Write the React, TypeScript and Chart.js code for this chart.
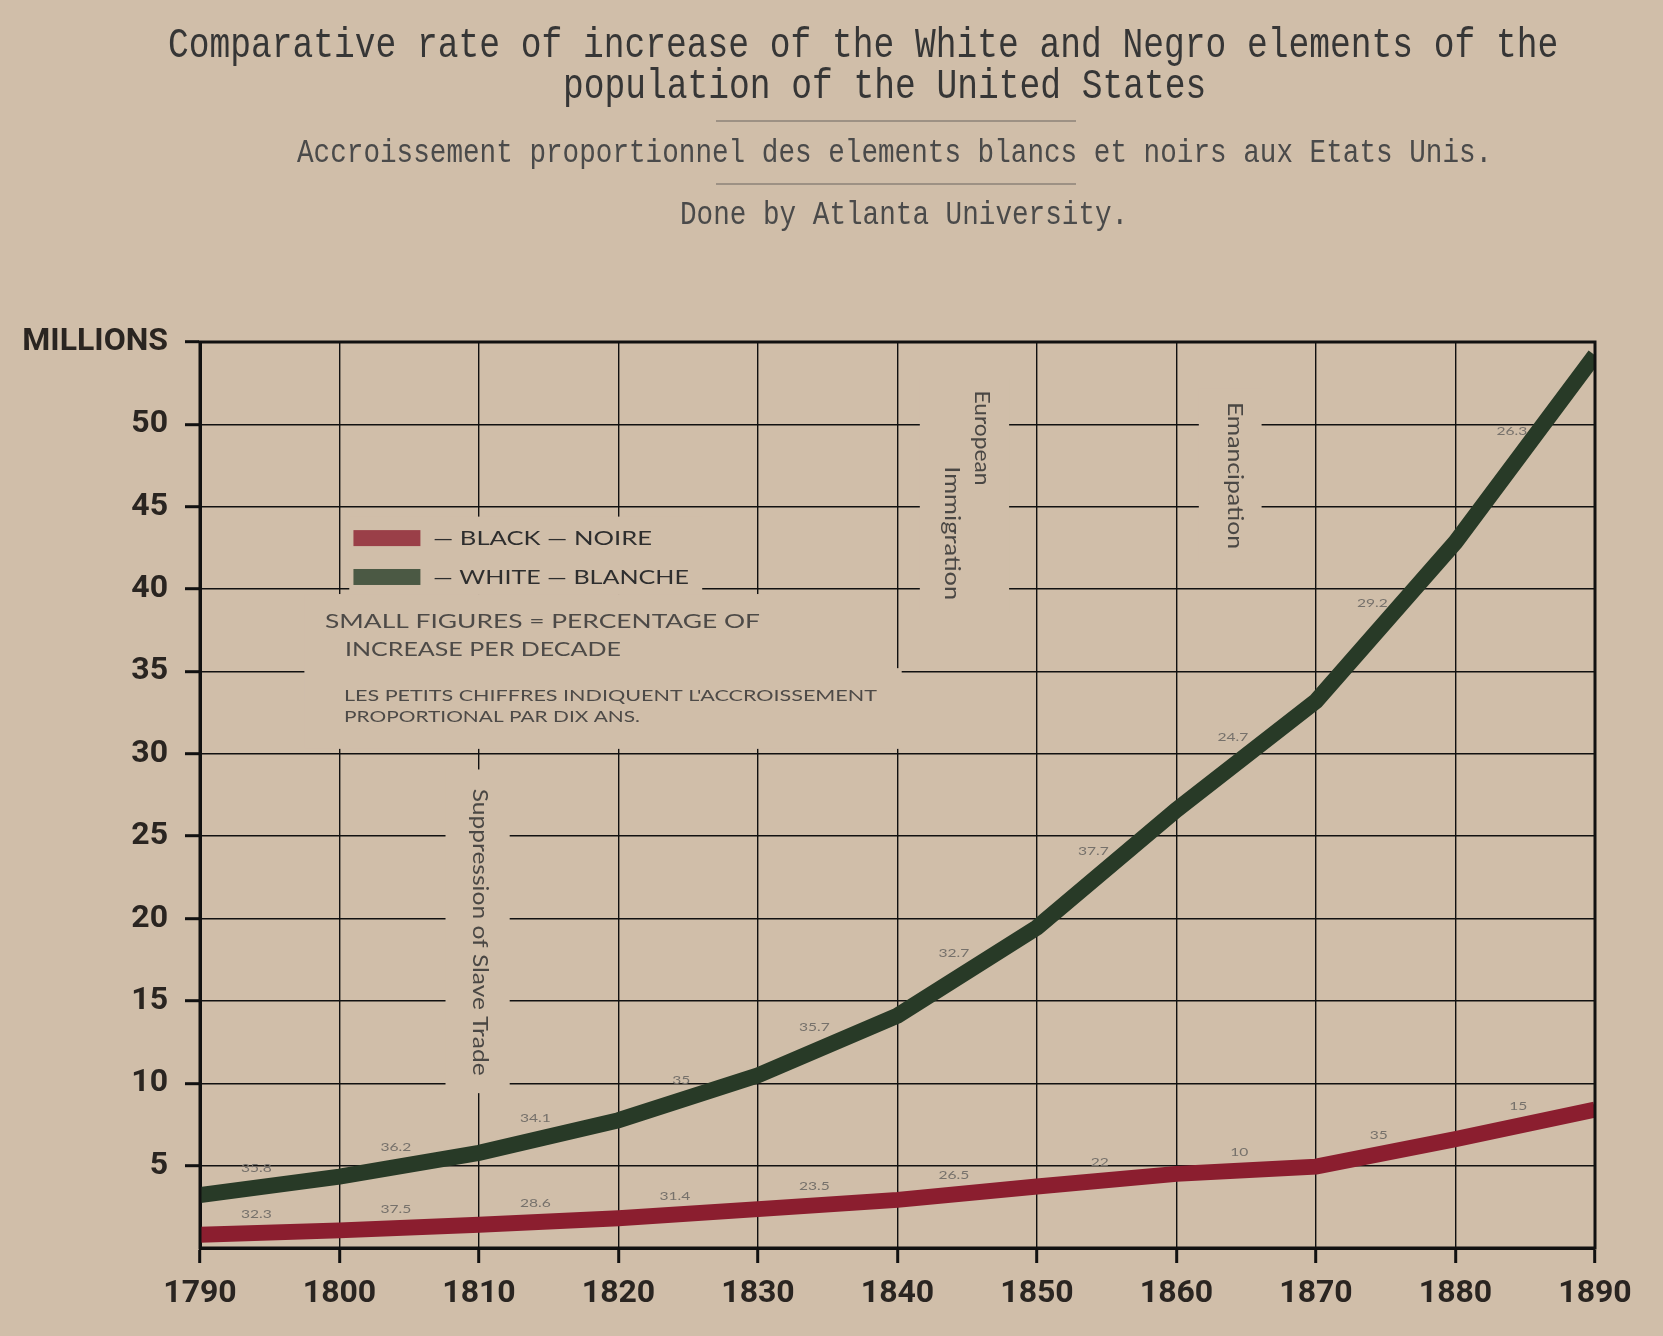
import React, { useEffect, useRef } from 'react';
import { Chart, registerables } from 'chart.js';

Chart.register(...registerables);

// ---------------- data ----------------
const years = [1790, 1800, 1810, 1820, 1830, 1840, 1850, 1860, 1870, 1880, 1890];
const whitePopulation = [3.22, 4.33, 5.78, 7.76, 10.48, 14.11, 19.46, 26.6, 33.2, 42.85, 54.2];
const blackPopulation = [0.8, 1.07, 1.41, 1.81, 2.36, 2.92, 3.73, 4.5, 4.94, 6.61, 8.4];
const whiteIncrease = ['35.8', '36.2', '34.1', '35', '35.7', '32.7', '37.7', '24.7', '29.2', '26.3'];
const blackIncrease = ['32.3', '37.5', '28.6', '31.4', '23.5', '26.5', '22', '10', '35', '15'];
const yTopLabel = 'MILLIONS';

const titleLines = [
  'Comparative rate of increase of the White and Negro elements of the',
  'population of the United States',
];
const subtitle = 'Accroissement proportionnel des elements blancs et noirs aux Etats Unis.';
const credit = 'Done by Atlanta University.';
const legendLabels = ['— BLACK — NOIRE', '— WHITE — BLANCHE'];
const noteLines = [
  'SMALL FIGURES = PERCENTAGE OF',
  'INCREASE PER DECADE',
  "LES PETITS CHIFFRES INDIQUENT L'ACCROISSEMENT",
  'PROPORTIONAL PAR DIX ANS.',
];
const eventLabels = ['European', 'Immigration', 'Emancipation', 'Suppression of Slave Trade'];

// ---------------- style ----------------
const W = 1663;
const H = 1336;
const BG = '#d0bea9';
const RED = '#8b1e2f';
const GREEN = '#283a27';
const RED_PATCH = '#9a3f48';
const GREEN_PATCH = '#4b5944';
const INK = '#111111';
const MONO = '"Liberation Mono", "DejaVu Sans Mono", monospace';
const HAND = 'Lato, "Open Sans", "DejaVu Sans", sans-serif';

type TextOpts = {
  font: string;
  color: string;
  align?: CanvasTextAlign;
  baseline?: CanvasTextBaseline;
  width?: number;
  sx?: number;
  rotate?: number;
};

function drawText(ctx: CanvasRenderingContext2D, text: string, x: number, y: number, o: TextOpts) {
  ctx.save();
  ctx.translate(x, y);
  if (o.rotate) ctx.rotate(o.rotate);
  ctx.font = o.font;
  let sx = o.sx ?? 1;
  if (o.width) sx = o.width / ctx.measureText(text).width;
  ctx.scale(sx, 1);
  ctx.fillStyle = o.color;
  ctx.textAlign = o.align ?? 'left';
  ctx.textBaseline = o.baseline ?? 'alphabetic';
  ctx.fillText(text, 0, 0);
  ctx.restore();
}

const decorPlugin = {
  id: 'decor',
  beforeDatasetsDraw(chart: any) {
    const ctx: CanvasRenderingContext2D = chart.ctx;
    const xs = chart.scales.x;
    const ys = chart.scales.y;
    const px = (v: number) => xs.getPixelForValue(v);
    const py = (v: number) => ys.getPixelForValue(v);
    const box = (x0: number, y0: number, x1: number, y1: number) => {
      ctx.fillStyle = BG;
      ctx.fillRect(px(x0), py(y0), px(x1) - px(x0), py(y1) - py(y0));
    };
    ctx.save();
    // boxes that interrupt the grid
    box(1800.7, 44.4, 1826.0, 39.7);
    box(1797.5, 39.7, 1830.9, 33.2);
    box(1797.5, 35.2, 1840.3, 30.3);
    box(1841.6, 52.8, 1848.0, 38.6);
    box(1861.6, 52.2, 1866.1, 41.6);
    box(1807.6, 29.05, 1812.2, 9.4);

    // legend
    ctx.fillStyle = RED_PATCH;
    ctx.fillRect(px(1801.0), py(43.58), px(1805.8) - px(1801.0), py(42.61) - py(43.58));
    ctx.fillStyle = GREEN_PATCH;
    ctx.fillRect(px(1801.0), py(41.22), px(1805.8) - px(1801.0), py(40.25) - py(41.22));
    drawText(ctx, legendLabels[0], px(1806.7), py(43.03), { font: `19px ${HAND}`, color: '#2e2e2e', baseline: 'middle', width: 219 });
    drawText(ctx, legendLabels[1], px(1806.7), py(40.67), { font: `19px ${HAND}`, color: '#2e2e2e', baseline: 'middle', width: 256 });

    // note
    const noteCol = '#4d4a47';
    drawText(ctx, noteLines[0], px(1798.96), py(38.01), { font: `19px ${HAND}`, color: noteCol, baseline: 'middle', width: 435 });
    drawText(ctx, noteLines[1], px(1800.39), py(36.31), { font: `19px ${HAND}`, color: noteCol, baseline: 'middle', width: 276 });
    drawText(ctx, noteLines[2], px(1800.32), py(33.53), { font: `15px ${HAND}`, color: noteCol, baseline: 'middle', width: 533 });
    drawText(ctx, noteLines[3], px(1800.32), py(32.2), { font: `15px ${HAND}`, color: noteCol, baseline: 'middle', width: 296 });

    // vertical event labels
    const rot = Math.PI / 2;
    const evCol = '#4a4744';
    drawText(ctx, eventLabels[0], px(1846.04), py(49.17), { font: `22px ${HAND}`, color: evCol, align: 'center', baseline: 'middle', width: 95, rotate: rot });
    drawText(ctx, eventLabels[1], px(1843.89), py(43.39), { font: `22px ${HAND}`, color: evCol, align: 'center', baseline: 'middle', width: 134, rotate: rot });
    drawText(ctx, eventLabels[2], px(1864.19), py(46.9), { font: `22px ${HAND}`, color: evCol, align: 'center', baseline: 'middle', width: 147, rotate: rot });
    drawText(ctx, eventLabels[3], px(1810.07), py(19.17), { font: `22px ${HAND}`, color: evCol, align: 'center', baseline: 'middle', width: 287, rotate: rot });
    ctx.restore();
  },
  afterDatasetsDraw(chart: any) {
    const ctx: CanvasRenderingContext2D = chart.ctx;
    const xs = chart.scales.x;
    const ys = chart.scales.y;
    const a = chart.chartArea;
    ctx.save();
    // percentage labels
    const labelSeries = (vals: number[], labels: string[]) => {
      for (let i = 0; i < labels.length; i++) {
        const mid = (vals[i] + vals[i + 1]) / 2;
        const x = xs.getPixelForValue((years[i] + years[i + 1]) / 2) + 2;
        const y = ys.getPixelForValue(mid) - 18;
        drawText(ctx, labels[i], x, y, { font: `12px ${HAND}`, color: '#76716b', align: 'right', baseline: 'middle', sx: 1.3 });
      }
    };
    labelSeries(whitePopulation, whiteIncrease);
    labelSeries(blackPopulation, blackIncrease);

    // frame
    ctx.strokeStyle = INK;
    ctx.lineWidth = 3;
    ctx.strokeRect(a.left, a.top, a.right - a.left, a.bottom - a.top);
    ctx.restore();
  },
  afterDraw(chart: any) {
    const ctx: CanvasRenderingContext2D = chart.ctx;
    ctx.save();
    drawText(ctx, titleLines[0], 168, 57, { font: `42px ${MONO}`, color: '#363636', width: titleLines[0].length * 20.75 });
    drawText(ctx, titleLines[1], 563, 97.5, { font: `42px ${MONO}`, color: '#363636', width: titleLines[1].length * 20.75 });
    drawText(ctx, subtitle, 297, 162, { font: `33px ${MONO}`, color: '#4a4a4a', width: subtitle.length * 16.6 });
    drawText(ctx, credit, 680, 224, { font: `33px ${MONO}`, color: '#4a4a4a', width: credit.length * 16.6 });
    ctx.strokeStyle = '#6a6460';
    ctx.lineWidth = 1.2;
    for (const y of [121, 184]) {
      ctx.beginPath();
      ctx.moveTo(716, y);
      ctx.lineTo(1076, y);
      ctx.stroke();
    }
    ctx.restore();
  },
};

export default function App() {
  const ref = useRef<HTMLCanvasElement>(null);
  useEffect(() => {
    document.body.style.margin = '0';
    document.body.style.background = BG;
    const tickFont = { family: 'Roboto, "Liberation Sans", sans-serif', size: 32, weight: 'bold' as const };
    const chart = new Chart(ref.current as HTMLCanvasElement, {
      type: 'line',
      data: {
        datasets: [
          {
            label: 'White',
            data: years.map((yr, i) => ({ x: yr, y: whitePopulation[i] })),
            borderColor: GREEN,
            borderWidth: 16,
            pointRadius: 0,
            tension: 0,
            clip: 0,
          },
          {
            label: 'Black',
            data: years.map((yr, i) => ({ x: yr, y: blackPopulation[i] })),
            borderColor: RED,
            borderWidth: 16,
            pointRadius: 0,
            tension: 0,
            clip: 0,
          },
        ],
      },
      options: {
        animation: false,
        responsive: false,
        devicePixelRatio: 1,
        events: [],
        layout: { padding: { top: 342, right: 68, left: 0, bottom: 0 } },
        plugins: { legend: { display: false }, tooltip: { enabled: false }, title: { display: false } },
        scales: {
          x: {
            type: 'linear',
            min: 1790,
            max: 1890,
            afterFit: (s: any) => { s.height = 88; },
            grid: { color: INK, lineWidth: 1.4, tickLength: 15, tickWidth: 3, tickColor: INK, drawTicks: true },
            border: { display: true, width: 3, color: INK },
            ticks: {
              stepSize: 10,
              autoSkip: false,
              maxRotation: 0,
              padding: 12,
              color: '#2a2521',
              font: tickFont,
              callback: (v: any) => String(v),
            },
          },
          y: {
            type: 'linear',
            min: 0,
            max: 55,
            afterFit: (s: any) => { s.width = 200; },
            grid: {
              color: INK,
              lineWidth: 1.4,
              tickLength: 15,
              tickWidth: 3,
              tickColor: (c: any) => (c.tick && c.tick.value === 0 ? 'rgba(0,0,0,0)' : INK),
              drawTicks: true,
            },
            border: { display: true, width: 3, color: INK },
            ticks: {
              stepSize: 5,
              autoSkip: false,
              padding: 17,
              color: '#2a2521',
              font: tickFont,
              callback: (v: any) => (v === 0 ? '' : v === 55 ? yTopLabel : String(v)),
            },
          },
        },
      },
      plugins: [decorPlugin],
    } as any);
    return () => chart.destroy();
  }, []);
  return (
    <div style={{ width: W, height: H, background: BG }}>
      <canvas ref={ref} width={W} height={H} style={{ width: W, height: H, display: 'block' }} />
    </div>
  );
}
